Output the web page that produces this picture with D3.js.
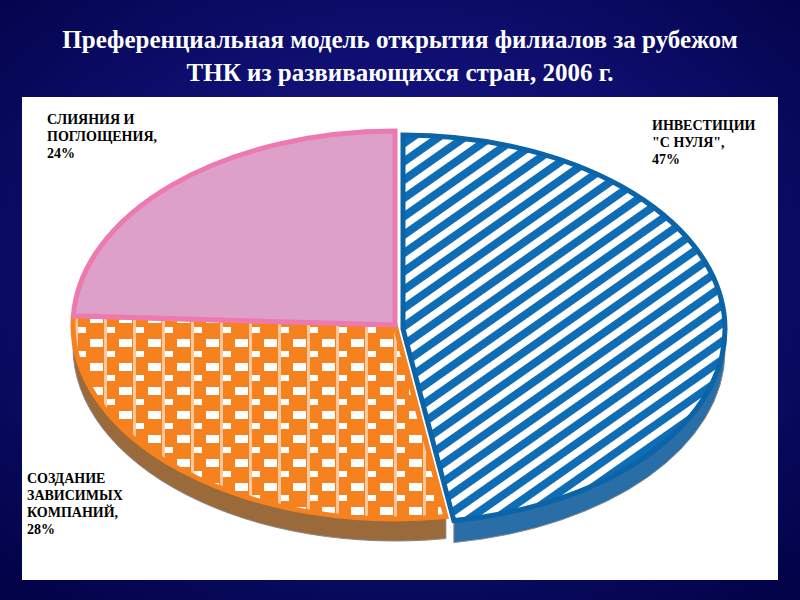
<!DOCTYPE html><html><head><meta charset="utf-8">
<script src="https://cdn.jsdelivr.net/npm/d3@7"></script>
<style>body{margin:0}</style></head><body>
<script>
const categories = ["ИНВЕСТИЦИИ \"С НУЛЯ\"", "СОЗДАНИЕ ЗАВИСИМЫХ КОМПАНИЙ", "СЛИЯНИЯ И ПОГЛОЩЕНИЯ"];
const values = [47, 28, 24];
const title = ["Преференциальная модель открытия филиалов за рубежом", "ТНК из развивающихся стран, 2006 г."];

const W = 800, H = 600;
const svg = d3.select("body").append("svg").attr("width", W).attr("height", H);
const defs = svg.append("defs");
const rg = defs.append("radialGradient").attr("id","bg").attr("cx","50%").attr("cy","45%").attr("r","70%");
rg.append("stop").attr("offset","0%").attr("stop-color","#1c1c9c");
rg.append("stop").attr("offset","100%").attr("stop-color","#03034a");
svg.append("rect").attr("width",W).attr("height",H).attr("fill","url(#bg)");

const pb = defs.append("pattern").attr("id","pBlue").attr("patternUnits","userSpaceOnUse")
  .attr("width",15).attr("height",15).attr("patternTransform","rotate(-35)");
pb.append("rect").attr("width",15).attr("height",15).attr("fill","#fff");
pb.append("rect").attr("width",15).attr("height",8).attr("fill","#0f6db5");
const po = defs.append("pattern").attr("id","pOrange").attr("patternUnits","userSpaceOnUse")
  .attr("width",29).attr("height",24);
po.append("rect").attr("width",29).attr("height",24).attr("fill","#f5821f");
po.append("rect").attr("x",3).attr("y",3).attr("width",13).attr("height",8).attr("fill","#fff");
po.append("rect").attr("x",20).attr("y",15).attr("width",8).attr("height",6).attr("fill","#fff");
po.append("rect").attr("x",17).attr("y",0).attr("width",3).attr("height",24).attr("fill","#fcc79a");

svg.append("rect").attr("x",22).attr("y",97).attr("width",756).attr("height",483).attr("fill","#fff");

const tt = svg.append("text").attr("fill","#fff").attr("font-family","Liberation Serif")
  .attr("font-weight","bold").attr("font-size",25).attr("text-anchor","middle");
title.forEach((t,i)=>tt.append("tspan").attr("x",400).attr("y",48+i*33).text(t));

const cx = 395, cy = 325, rx = 322, ry = 194, depth = 22;
const arcs = d3.pie().sort(null).value(d=>d)(values);
const pt = (a, dx, dy) => [cx + dx + rx*Math.sin(a), cy + dy - ry*Math.cos(a)];
function slicePath(a0, a1, dx, dy){
  const p0 = pt(a0,dx,dy), p1 = pt(a1,dx,dy);
  const large = (a1-a0) > Math.PI ? 1 : 0;
  return `M${cx+dx},${cy+dy}L${p0}A${rx},${ry} 0 ${large} 1 ${p1}Z`;
}
function sidePath(a0, a1, dx, dy){
  const s = Math.max(a0, Math.PI/2), e = Math.min(a1, 1.5*Math.PI);
  if (e <= s) return null;
  const p0 = pt(s,dx,dy), p1 = pt(e,dx,dy), q1 = pt(e,dx,dy+depth), q0 = pt(s,dx,dy+depth);
  return `M${p0}A${rx},${ry} 0 0 1 ${p1}L${q1}A${rx},${ry} 0 0 0 ${q0}Z`;
}
const offs = [[8,4],[0,0],[0,0]];
const fills = ["url(#pBlue)","url(#pOrange)","#dda0c8"];
const strokes = ["#0b64a8","#f5821f","#ec7ab0"];
const sides = ["#2a6ea8","#9a6a3a","#c080a8"];
arcs.forEach((a,i)=>{
  const sp = sidePath(a.startAngle, a.endAngle, offs[i][0], offs[i][1]);
  if (sp) svg.append("path").attr("d",sp).attr("fill",sides[i]).attr("stroke","#888").attr("stroke-width",1);
});
arcs.forEach((a,i)=>{
  svg.append("path").attr("d",slicePath(a.startAngle,a.endAngle,offs[i][0],offs[i][1]))
    .attr("fill",fills[i]).attr("stroke",strokes[i]).attr("stroke-width",5);
});

const labels = [
  {x:652,y:130,lines:["ИНВЕСТИЦИИ","\"С НУЛЯ\",",values[0]+"%"]},
  {x:27,y:483,lines:["СОЗДАНИЕ","ЗАВИСИМЫХ","КОМПАНИЙ,",values[1]+"%"]},
  {x:47,y:124,lines:["СЛИЯНИЯ И","ПОГЛОЩЕНИЯ,",values[2]+"%"]}
];
labels.forEach(l=>{
  const t = svg.append("text").attr("font-family","Liberation Serif").attr("font-weight","bold")
    .attr("font-size",14).attr("fill","#000");
  l.lines.forEach((s,j)=>t.append("tspan").attr("x",l.x).attr("y",l.y+j*17).text(s));
});
</script></body></html>
